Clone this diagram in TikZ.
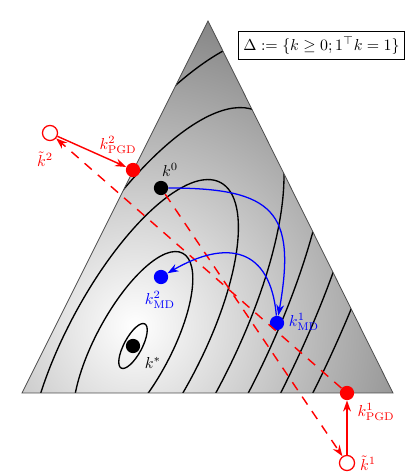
\documentclass[tikz,border=0pt]{standalone}
\usepackage{amsmath,amssymb}
\usepackage{xcolor}
\usepackage{tikz}
\usetikzlibrary{arrows.meta,positioning,calc}

\begin{document}
\begin{tikzpicture}[x=0.63pt, y=0.63pt,
    dot/.style={circle, fill=#1, inner sep=0pt, minimum size=9pt},
    hollow/.style={circle, draw=red, fill=white, line width=0.8pt, inner sep=0pt, minimum size=9.5pt},
    contour/.style={black, line width=0.85pt},
    lbl/.style={inner sep=1pt},
    mdstep/.style={blue, line width=0.8pt, -{Stealth[length=7pt, width=5pt]}},
    pgdstep/.style={red, line width=0.9pt, -{Stealth[length=7pt, width=5pt]}},
    gradstep/.style={red, line width=0.9pt, dash pattern=on 6pt off 5pt, -{Stealth[length=7pt, width=5pt]}}
]
    \useasboundingbox (0,0) rectangle (416,476);

    % Simplex
    \coordinate (top) at (208,455);
    \coordinate (left) at (22,83);
    \coordinate (right) at (393,83);

    \begin{scope}
        \clip (top) -- (left) -- (right) -- cycle;
        \shade[inner color=white, outer color=black!50] (135,150) circle (330);
        % Level sets
        \foreach \s in {10,42,...,202} {
            \draw[contour, shift={(133,130)}, rotate=61.8] (0,0) ellipse ({2.506*\s} and {0.898*\s});
        }
    \end{scope}
    \draw[gray!60!black, line width=0.5pt] (top) -- (left) -- (right) -- cycle;

    \node[draw, line width=0.6pt] (simplex) at (321.5,430.5) {$\Delta := \{k \geq 0; 1^\top k = 1\}$};

    % Iterates
    \node[dot=black] (k0) at (161,288) {};
    \node[dot=black] (kstar) at (133,130) {};
    \node[dot=blue] (md1) at (277,153) {};
    \node[dot=blue] (md2) at (161,199) {};
    \node[dot=red] (pgd1) at (347,83) {};
    \node[dot=red] (pgd2) at (133,306) {};
    \node[hollow] (kt1) at (347,13) {};
    \node[hollow] (kt2) at (50,343) {};

    \node[lbl] (k0lbl) at (170,306) {$k^0$};
    \node[lbl] (kstarlbl) at (153,113) {$k^*$};
    \node[lbl, blue] (md1lbl) at (304,154) {$k^1_{\mathrm{MD}}$};
    \node[lbl, blue] (md2lbl) at (160,176) {$k^2_{\mathrm{MD}}$};
    \node[lbl, red] (pgd1lbl) at (376,64) {$k^1_{\mathrm{PGD}}$};
    \node[lbl, red] (pgd2lbl) at (118,331) {$k^2_{\mathrm{PGD}}$};
    \node[lbl, red] (kt1lbl) at (368,13) {$\tilde{k}^1$};
    \node[lbl, red] (kt2lbl) at (45,317) {$\tilde{k}^2$};

    % Gradient steps and projections
    \draw[gradstep] (k0) -- (kt1);
    \draw[gradstep] (pgd1) -- (kt2);
    \draw[pgdstep] (kt1) -- (pgd1);
    \draw[pgdstep] (kt2) -- (pgd2);

    % Mirror descent steps
    \draw[mdstep] (k0) to[out=0, in=80, looseness=1.6] (md1);
    \draw[mdstep] (md1) to[out=95, in=30, looseness=1.5] (md2);
\end{tikzpicture}
\end{document}
